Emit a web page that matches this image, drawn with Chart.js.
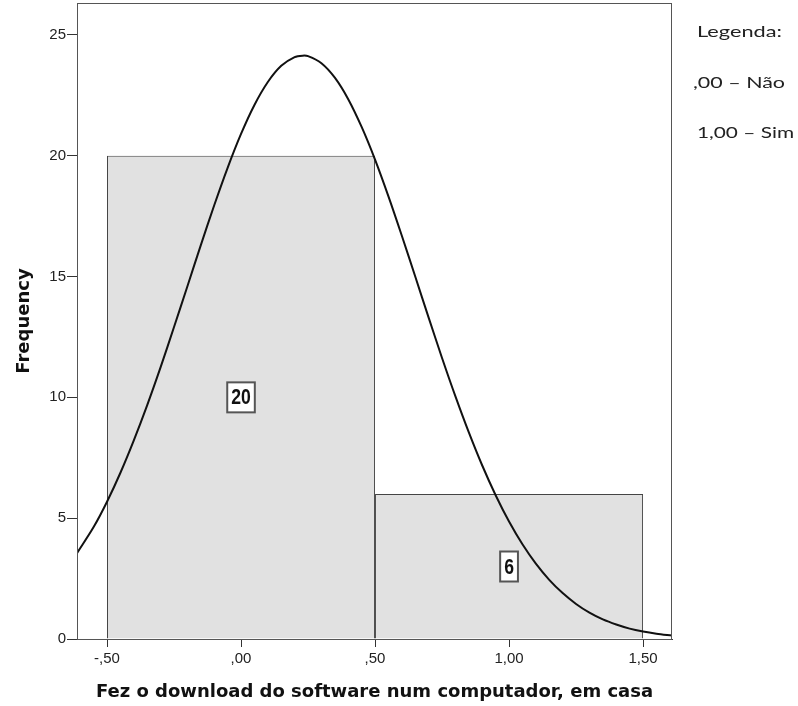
<!DOCTYPE html>
<html>
<head>
<meta charset="utf-8">
<script src="https://cdn.jsdelivr.net/npm/chart.js@4"></script>
<style>
  html, body { margin: 0; padding: 0; background: #fff; }
  #wrap { width: 798px; height: 706px; position: relative; }
</style>
</head>
<body>
<div id="wrap"><canvas id="c" width="798" height="706"></canvas></div>
<script>
// ---- data ----
const binCenters = [0, 1];
const frequencies = [20, 6];
const binLabels = ['20', '6'];
// normal curve heights
const curveX = [-0.612, -0.55, -0.5, -0.45, -0.4, -0.35, -0.3, -0.25, -0.2, -0.15, -0.1, -0.05, 0.0, 0.05, 0.1, 0.15, 0.2, 0.23, 0.25, 0.3, 0.35, 0.4, 0.45, 0.5, 0.55, 0.6, 0.65, 0.7, 0.75, 0.8, 0.85, 0.9, 0.95, 1.0, 1.05, 1.1, 1.15, 1.2, 1.25, 1.3, 1.35, 1.4, 1.45, 1.5, 1.55, 1.608];
const curveY = [3.55, 4.63, 5.68, 6.88, 8.22, 9.68, 11.25, 12.91, 14.60, 16.30, 17.95, 19.50, 20.90, 22.10, 23.05, 23.72, 24.08, 24.14, 24.12, 23.83, 23.23, 22.34, 21.19, 19.84, 18.32, 16.69, 15.00, 13.30, 11.63, 10.04, 8.55, 7.18, 5.95, 4.86, 3.92, 3.12, 2.45, 1.90, 1.45, 1.09, 0.81, 0.60, 0.43, 0.31, 0.22, 0.14];
const xTickValues = [-0.5, 0, 0.5, 1, 1.5];
const xTickLabels = ['-,50', ',00', ',50', '1,00', '1,50'];
const yTickValues = [0, 5, 10, 15, 20, 25];
const legendLines = ['Legenda:', ',00 \u2013 N\u00e3o', '1,00 \u2013 Sim'];
const xTitle = 'Fez o download do software num computador, em casa';
const yTitle = 'Frequency';

const barData = binCenters.map((c, i) => ({ x: c, y: frequencies[i] }));
const curveData = curveX.map((x, i) => ({ x: x, y: curveY[i] }));

const extras = {
  id: 'extras',
  afterDatasetsDraw(chart) {
    const { ctx, chartArea: a, scales } = chart;
    ctx.save();
    // frame
    ctx.strokeStyle = '#555';
    ctx.lineWidth = 1;
    ctx.strokeRect(a.left + 0.5, a.top + 0.5, a.right - a.left - 1, a.bottom - a.top);
    // bar labels
    ctx.font = 'bold 22px "Liberation Sans", Arial, sans-serif';
    ctx.textAlign = 'center';
    ctx.textBaseline = 'middle';
    const sx = 0.8;
    binCenters.forEach((c, i) => {
      const px = scales.x.getPixelForValue(c);
      const py = scales.y.getPixelForValue(frequencies[i] / 2);
      const w = ctx.measureText(binLabels[i]).width * sx + 8;
      const h = 30;
      ctx.fillStyle = '#fff';
      ctx.fillRect(px - w / 2, py - h / 2, w, h);
      ctx.strokeStyle = '#555';
      ctx.lineWidth = 2;
      ctx.strokeRect(px - w / 2, py - h / 2, w, h);
      ctx.save();
      ctx.translate(px, py + 1);
      ctx.scale(sx, 1);
      ctx.fillStyle = '#111';
      ctx.fillText(binLabels[i], 0, 0);
      ctx.restore();
    });
    ctx.restore();
  },
  afterDraw(chart) {
    const { ctx } = chart;
    ctx.save();
    ctx.font = '16px Lato, "Open Sans", sans-serif';
    ctx.fillStyle = '#222';
    ctx.textAlign = 'left';
    ctx.textBaseline = 'alphabetic';
    const xs = [697, 693, 697];
    const ys = [37, 88, 138];
    const targetW = [85, 92, 97];
    legendLines.forEach((t, i) => {
      const w = ctx.measureText(t).width;
      ctx.save();
      ctx.translate(xs[i], ys[i]);
      ctx.scale(targetW[i] / w, 1);
      ctx.fillText(t, 0, 0);
      ctx.restore();
    });
    ctx.restore();
  }
};

new Chart(document.getElementById('c'), {
  type: 'bar',
  data: {
    datasets: [
      {
        type: 'line',
        data: curveData,
        borderColor: '#111',
        borderWidth: 2,
        pointRadius: 0,
        fill: false,
        tension: 0.3,
        order: 0
      },
      {
        type: 'bar',
        data: barData,
        backgroundColor: '#e1e1e1',
        borderColor: '#444',
        borderWidth: 1,
        barPercentage: 2,
        categoryPercentage: 1,
        grouped: false,
        order: 1
      }
    ]
  },
  plugins: [extras],
  options: {
    responsive: false,
    animation: false,
    devicePixelRatio: 1,
    layout: { padding: { left: 0, top: 3, right: 126, bottom: 0 } },
    plugins: { legend: { display: false }, tooltip: { enabled: false } },
    scales: {
      x: {
        type: 'linear',
        min: -0.612,
        max: 1.608,
        offset: false,
        afterBuildTicks: s => { s.ticks = xTickValues.map(v => ({ value: v })); },
        afterFit: s => { s.height = 67; s.paddingLeft = 0; s.paddingRight = 0; },
        ticks: {
          autoSkip: false,
          maxRotation: 0,
          padding: 3,
          color: '#222',
          font: { family: 'Arial, "Liberation Sans", sans-serif', size: 15 },
          callback: (v, i) => xTickLabels[i]
        },
        grid: { display: true, drawOnChartArea: false, drawTicks: true, tickLength: 8, tickColor: '#333', offset: false },
        border: { display: true, color: '#333' },
        title: {
          display: true,
          text: xTitle,
          color: '#111',
          font: { family: '"DejaVu Sans", Verdana, sans-serif', size: 18, weight: 'bold' },
          padding: { top: 0, bottom: 3 }
        }
      },
      y: {
        type: 'linear',
        min: 0,
        max: 26.32,
        afterBuildTicks: s => { s.ticks = yTickValues.map(v => ({ value: v })); },
        afterFit: s => { s.width = 77; s.paddingTop = 0; s.paddingBottom = 0; },
        ticks: {
          padding: 1,
          color: '#222',
          font: { family: 'Arial, "Liberation Sans", sans-serif', size: 15 },
          callback: v => String(v)
        },
        grid: { display: true, drawOnChartArea: false, drawTicks: true, tickLength: 10, tickColor: '#333' },
        border: { display: true, color: '#333' },
        title: {
          display: true,
          text: yTitle,
          color: '#111',
          font: { family: '"DejaVu Sans", Verdana, sans-serif', size: 18, weight: 'bold' },
          padding: { top: 14, bottom: 0 }
        }
      }
    }
  }
});
</script>
</body>
</html>
